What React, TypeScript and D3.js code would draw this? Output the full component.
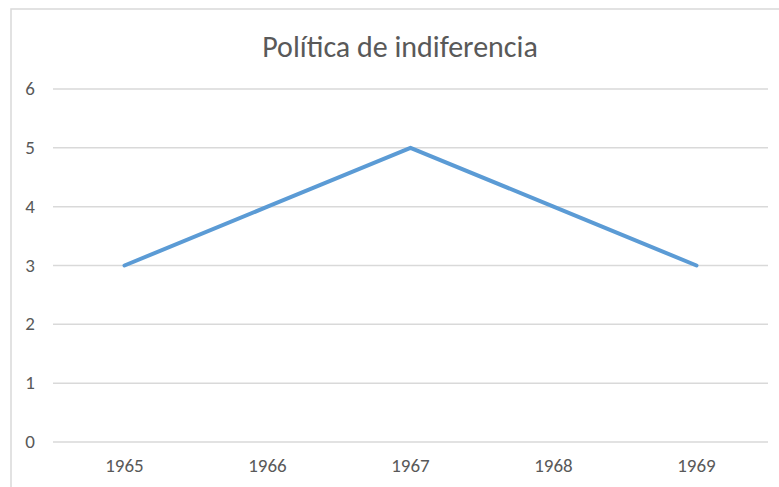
import { useEffect, useRef } from "react";
import * as d3 from "d3";

const YEARS = ["1965", "1966", "1967", "1968", "1969"];
const VALUES = [3, 4, 5, 4, 3];
const Y_TICKS = [0, 1, 2, 3, 4, 5, 6];
const TITLE = "Política de indiferencia";

export default function App() {
  const ref = useRef<SVGSVGElement | null>(null);

  useEffect(() => {
    if (!ref.current) return;
    const svg = d3.select(ref.current);
    svg.selectAll("*").remove();

    const width = 779;
    const height = 487;
    const plot = { left: 53, right: 768, top: 89, bottom: 442 };
    const font = "Carlito, Calibri, 'Open Sans', sans-serif";

    svg.attr("viewBox", `0 0 ${width} ${height}`);

    svg
      .append("rect")
      .attr("x", 11)
      .attr("y", 9)
      .attr("width", width + 10)
      .attr("height", height + 10)
      .attr("fill", "#fff")
      .attr("stroke", "#d9d9d9")
      .attr("stroke-width", 1.5);

    const x = d3
      .scaleBand<string>()
      .domain(YEARS)
      .range([plot.left, plot.right]);

    const y = d3
      .scaleLinear()
      .domain([0, 6])
      .range([plot.bottom, plot.top]);

    svg
      .append("g")
      .selectAll("line")
      .data(Y_TICKS)
      .enter()
      .append("line")
      .attr("x1", plot.left)
      .attr("x2", plot.right)
      .attr("y1", (d) => y(d))
      .attr("y2", (d) => y(d))
      .attr("stroke", "#d9d9d9")
      .attr("stroke-width", 1.5);

    svg
      .append("g")
      .selectAll("text")
      .data(Y_TICKS)
      .enter()
      .append("text")
      .text((d) => String(d))
      .attr("x", 35)
      .attr("y", (d) => y(d) + 6)
      .attr("text-anchor", "end")
      .attr("font-family", font)
      .attr("font-size", 19)
      .attr("fill", "#595959");

    svg
      .append("g")
      .selectAll("text")
      .data(YEARS)
      .enter()
      .append("text")
      .text((d) => d)
      .attr("x", (d) => (x(d) ?? 0) + x.bandwidth() / 2)
      .attr("y", 472)
      .attr("text-anchor", "middle")
      .attr("font-family", font)
      .attr("font-size", 19)
      .attr("fill", "#595959");

    const line = d3
      .line<number>()
      .x((_, i) => (x(YEARS[i]) ?? 0) + x.bandwidth() / 2)
      .y((d) => y(d));

    svg
      .append("path")
      .datum(VALUES)
      .attr("d", line)
      .attr("fill", "none")
      .attr("stroke", "#5b9bd5")
      .attr("stroke-width", 4)
      .attr("stroke-linejoin", "round")
      .attr("stroke-linecap", "round");

    svg
      .append("text")
      .text(TITLE)
      .attr("x", 400)
      .attr("y", 57)
      .attr("text-anchor", "middle")
      .attr("font-family", font)
      .attr("font-size", 30)
      .attr("fill", "#595959");
  }, []);

  return (
    <svg
      ref={ref}
      width={779}
      height={487}
      style={{ position: "absolute", left: 0, top: 0 }}
    />
  );
}
